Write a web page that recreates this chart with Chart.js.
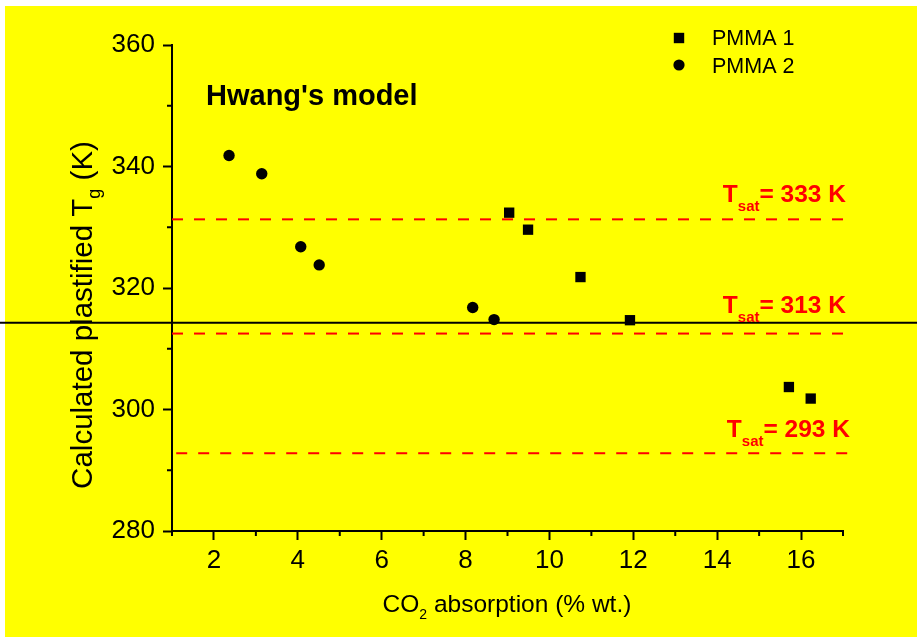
<!DOCTYPE html>
<html>
<head>
<meta charset="utf-8">
<script src="https://cdn.jsdelivr.net/npm/chart.js@4"></script>
<style>
  body { margin: 0; background: #fff; }
  canvas { display: block; }
</style>
</head>
<body>
<canvas id="tgChart" width="917" height="637"></canvas>
<script>
// PMMA 1 (squares)
const pmma1X = [9.04, 9.49, 10.74, 11.92, 15.71, 16.23];
const pmma1Y = [332.4, 329.6, 321.8, 314.7, 303.7, 301.8];
// PMMA 2 (circles)
const pmma2X = [2.36, 3.14, 4.07, 4.51, 8.17, 8.68];
const pmma2Y = [341.8, 338.8, 326.8, 323.8, 316.8, 314.8];

// saturation temperature reference lines (as drawn)
const tsatNames = ["333", "313", "293"];
const tsatLevels = [331.3, 312.5, 292.8];
const tsatStart = [1, 1, 1.1];
const tsatEnd = [17.03, 17.0, 17.15];

const refLineY = 314.3;

const xTicks = [2, 4, 6, 8, 10, 12, 14, 16];
const xMinor = [1, 3, 5, 7, 9, 11, 13, 15, 17];
const yTicks = [280, 300, 320, 340, 360];
const yMinor = [290, 310, 330, 350];

const FONT = "Arial, 'Liberation Sans', sans-serif";
Chart.defaults.font.family = FONT;
Chart.defaults.color = "#000";

const ctx = document.getElementById("tgChart").getContext("2d");

const toPts = (xs, ys) => xs.map((x, i) => ({ x: x, y: ys[i] }));

const tsatSets = tsatLevels.map((lvl, i) => ({
  label: "Tsat " + tsatNames[i],
  data: [{ x: tsatStart[i], y: lvl }, { x: tsatEnd[i], y: lvl }],
  showLine: true,
  borderColor: "#ff0000",
  borderWidth: 2,
  borderDash: [11, 11],
  pointRadius: 0,
  clip: false,
}));

const bgPlugin = {
  id: "bg",
  beforeDraw(chart) {
    const c = chart.ctx;
    c.save();
    c.fillStyle = "#ffff00";
    c.fillRect(5, 6, chart.width - 5, chart.height - 6);
    c.restore();
  },
};

function subText(c, parts, x, y, align) {
  // parts: [text, font, dy]
  let total = 0;
  parts.forEach(p => { c.font = p[1]; total += c.measureText(p[0]).width; });
  let cx = align === "right" ? x - total : align === "center" ? x - total / 2 : x;
  parts.forEach(p => {
    c.font = p[1];
    c.fillText(p[0], cx, y + p[2]);
    cx += c.measureText(p[0]).width;
  });
}

const decorPlugin = {
  id: "decor",
  afterDraw(chart) {
    const c = chart.ctx;
    const xs = chart.scales.x, ys = chart.scales.y;
    const area = chart.chartArea;
    c.save();
    c.fillStyle = "#000";
    c.strokeStyle = "#000";
    c.textBaseline = "alphabetic";
    c.textAlign = "left";

    // minor ticks
    c.lineWidth = 2;
    c.beginPath();
    xMinor.forEach(v => {
      const px = xs.getPixelForValue(v);
      c.moveTo(px, area.bottom);
      c.lineTo(px, area.bottom + 5);
    });
    yMinor.forEach(v => {
      const py = ys.getPixelForValue(v);
      c.moveTo(area.left, py);
      c.lineTo(area.left - 5, py);
    });
    c.stroke();

    // black horizontal line across the whole figure
    const ry = ys.getPixelForValue(refLineY);
    c.beginPath();
    c.moveTo(0, ry);
    c.lineTo(chart.width, ry);
    c.stroke();

    // axis titles
    subText(c, [
      ["CO", "24.5px " + FONT, 0],
      ["2", "14px " + FONT, 7],
      [" absorption (% wt.)", "24.5px " + FONT, 0],
    ], 507, 612, "center");

    c.save();
    c.translate(92, 315);
    c.rotate(-Math.PI / 2);
    subText(c, [
      ["Calculated plastified T", "29.5px " + FONT, 0],
      ["g", "18px " + FONT, 8],
      [" (K)", "29.5px " + FONT, 0],
    ], 0, 0, "center");
    c.restore();

    // model label
    c.font = "bold 29px " + FONT;
    c.fillText("Hwang's model", 206, 105);

    // Tsat labels
    c.fillStyle = "#ff0000";
    const dy = [17, 21, 16];
    const rx = [846, 846, 850];
    tsatLevels.forEach((lvl, i) => {
      const py = ys.getPixelForValue(lvl) - dy[i];
      subText(c, [
        ["T", "bold 24.5px " + FONT, 0],
        ["sat", "bold 15px " + FONT, 9],
        ["= " + tsatNames[i] + " K", "bold 24.5px " + FONT, 0],
      ], rx[i], py, "right");
    });

    // legend
    c.fillStyle = "#000";
    c.fillRect(679 - 5.2, 38 - 5.2, 10.4, 10.4);
    c.beginPath();
    c.arc(679, 65, 5.6, 0, Math.PI * 2);
    c.fill();
    c.font = "21.5px " + FONT;
    c.fillText("PMMA 1", 712, 45);
    c.fillText("PMMA 2", 712, 72.5);
    c.restore();
  },
};

const axisCommon = {
  grid: {
    display: true,
    drawOnChartArea: false,
    drawTicks: true,
    tickLength: 9,
    tickWidth: 2,
    color: "#000",
  },
  border: { display: true, color: "#000", width: 2 },
};

new Chart(ctx, {
  type: "scatter",
  data: {
    datasets: [
      {
        label: "PMMA 1",
        data: toPts(pmma1X, pmma1Y),
        pointStyle: "rect",
        pointRadius: 7.3,
        pointHoverRadius: 7.3,
        backgroundColor: "#000",
        borderWidth: 0,
      },
      {
        label: "PMMA 2",
        data: toPts(pmma2X, pmma2Y),
        pointStyle: "circle",
        pointRadius: 5.7,
        pointHoverRadius: 5.7,
        backgroundColor: "#000",
        borderWidth: 0,
      },
      ...tsatSets,
    ],
  },
  options: {
    responsive: false,
    animation: false,
    layout: { padding: { left: 0, top: 45, right: 74, bottom: 0 } },
    plugins: {
      legend: { display: false },
      tooltip: { enabled: false },
    },
    scales: {
      x: {
        ...axisCommon,
        type: "linear",
        min: 1,
        max: 17,
        afterBuildTicks: s => { s.ticks = xTicks.map(v => ({ value: v })); },
        afterFit: s => { s.height = 106; },
        ticks: { font: { size: 26 }, color: "#000", padding: 5, maxRotation: 0 },
      },
      y: {
        ...axisCommon,
        type: "linear",
        min: 280,
        max: 360,
        afterBuildTicks: s => { s.ticks = yTicks.map(v => ({ value: v })); },
        afterFit: s => { s.width = 172; },
        ticks: { font: { size: 26 }, color: "#000", padding: 8 },
      },
    },
  },
  plugins: [bgPlugin, decorPlugin],
});
</script>
</body>
</html>
